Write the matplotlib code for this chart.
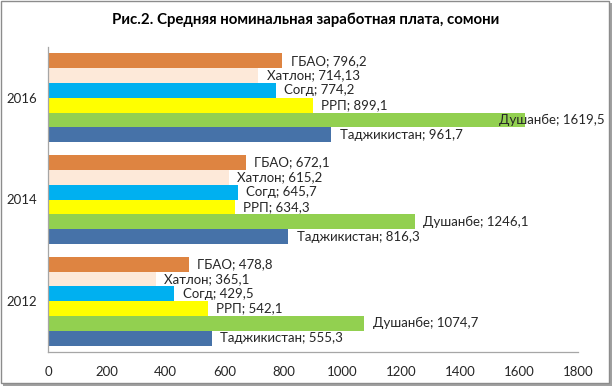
import matplotlib
matplotlib.use("Agg")
import matplotlib.pyplot as plt
from matplotlib.patches import Rectangle
import numpy as np

plt.rcParams['font.family'] = ['Lato', 'DejaVu Sans']

years = ["2012", "2014", "2016"]
series = ["Таджикистан", "Душанбе", "РРП", "Согд", "Хатлон", "ГБАО"]
tajikistan = [555.3, 816.3, 961.7]
dushanbe = [1074.7, 1246.1, 1619.5]
rrp = [542.1, 634.3, 899.1]
sogd = [429.5, 645.7, 774.2]
khatlon = [365.1, 615.2, 714.13]
gbao = [478.8, 672.1, 796.2]
values = [tajikistan, dushanbe, rrp, sogd, khatlon, gbao]
colors = ["#4672A8", "#92D050", "#FFFF00", "#00B0F0", "#FDE9D9", "#DE8441"]

W, H = 612, 386
fig = plt.figure(figsize=(W / 100, H / 100), dpi=100)

# frame with shadow
fig.patches.append(Rectangle((3 / W, 0), 1 - 3 / W, 1 - 3 / H, transform=fig.transFigure,
                             facecolor="#A0A0A0", edgecolor="none", zorder=-2))
fig.patches.append(Rectangle((0.5 / W, 3.5 / H), 1 - 4 / W, 1 - 4 / H, transform=fig.transFigure,
                             facecolor="white", edgecolor="#8C8C8C", linewidth=1, zorder=-1))

ax = fig.add_axes([48 / W, 34 / H, 530 / W, 305 / H])
ax.set_facecolor("none")

n = len(series)
group = 0.875
h = group / n
y = np.arange(len(years))
for i, (name, vals, c) in enumerate(zip(series, values, colors)):
    ypos = y - group / 2 + h * (i + 0.5)
    ax.barh(ypos, vals, height=h, color=c, edgecolor="none", zorder=2)
    for yy, v in zip(ypos, vals):
        lab = f"{name}; {str(v).replace('.', ',')}"
        if v > 1500:
            ax.annotate(lab, xy=(605 / W, yy), xycoords=("figure fraction", "data"),
                        ha="right", va="center", fontsize=9.5, color="#262626", zorder=3)
        else:
            ax.annotate(lab, xy=(v, yy), xytext=(6, 0), textcoords="offset points",
                        ha="left", va="center", fontsize=9.5, color="#262626", zorder=3)

ax.set_xlim(0, 1800)
ax.set_ylim(-0.5, 2.5)
ax.set_xticks(np.arange(0, 1801, 200))
ax.set_yticks(y)
ax.set_yticklabels(years)
ax.tick_params(axis="both", labelsize=9.5, colors="#262626", length=0)
ax.tick_params(axis="x", pad=10)
ax.tick_params(axis="y", pad=8)
for s in ["top", "right"]:
    ax.spines[s].set_visible(False)
for s in ["left", "bottom"]:
    ax.spines[s].set_color("#A6A6A6")
    ax.spines[s].set_linewidth(0.9)

fig.text(0.5, 1 - 20 / H, "Рис.2. Средняя номинальная заработная плата, сомони",
         ha="center", va="center", fontsize=10.8, fontweight="bold", color="black")

fig.savefig("out.png", dpi=100)
